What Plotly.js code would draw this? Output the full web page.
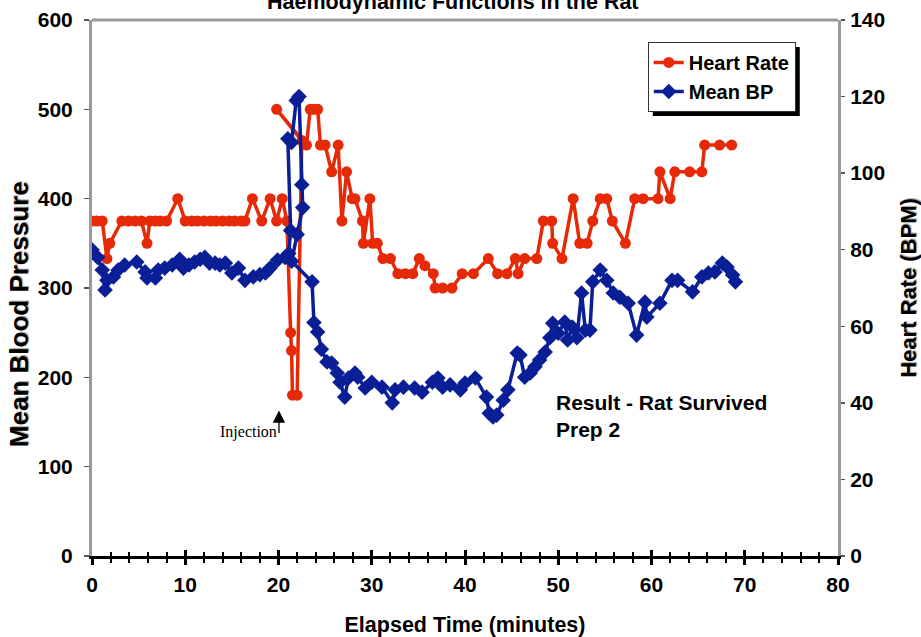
<!DOCTYPE html>
<html>
<head>
<meta charset="utf-8">
<script src="https://cdn.plot.ly/plotly-3.0.1.min.js"></script>
<style>html,body{margin:0;padding:0;background:#fff;}#chart{width:921px;height:637px;}</style>
</head>
<body>
<div id="chart"></div>
<script>
// Heart Rate (red, left axis scale)
const hrTime = [0, 0.5, 1.1, 1.6, 1.9, 3.2, 3.9, 4.6, 5.3, 5.9, 6.2, 6.8, 7.3, 8.0, 9.2, 10.0, 10.7, 11.3, 12.0, 12.7, 13.3, 14.0, 14.7, 15.3, 16.0, 16.4, 17.2, 18.2, 19.1, 19.8, 20.4, 20.9, 21.3, 21.4, 21.5, 22.0, 22.5, 19.8, 23.0, 23.4, 23.8, 24.2, 24.5, 25.0, 25.7, 26.4, 26.8, 27.3, 27.9, 28.2, 29.0, 29.1, 29.8, 30.1, 30.6, 31.2, 32.0, 32.8, 33.6, 34.4, 35.1, 35.7, 36.6, 36.8, 37.6, 38.6, 39.7, 40.9, 42.5, 43.5, 44.5, 45.4, 45.7, 46.4, 47.7, 48.4, 49.3, 49.4, 50.4, 51.6, 52.3, 53.1, 53.7, 54.5, 55.2, 55.8, 57.2, 58.2, 59.1, 60.7, 60.9, 62.0, 62.5, 64.1, 65.4, 65.7, 67.3, 68.6];
const hrValues = [375, 375, 375, 333, 350, 375, 375, 375, 375, 350, 375, 375, 375, 375, 400, 375, 375, 375, 375, 375, 375, 375, 375, 375, 375, 375, 400, 375, 400, 375, 400, 375, 250, 230, 180, 180, 465, 500, 460, 500, 500, 500, 460, 460, 430, 460, 375, 430, 400, 400, 375, 350, 400, 350, 350, 333, 333, 316, 316, 316, 333, 325, 316, 300, 300, 300, 316, 316, 333, 316, 316, 333, 316, 333, 333, 375, 375, 350, 333, 400, 350, 350, 375, 400, 400, 375, 350, 400, 400, 400, 430, 400, 430, 430, 430, 460, 460, 460];

// Mean BP (blue, right axis scale)
const bpTime = [0, 0.6, 1.1, 1.4, 1.6, 2.3, 2.8, 3.5, 4.8, 5.7, 5.9, 6.8, 7.1, 7.8, 8.6, 9.4, 9.8, 10.4, 11.0, 11.6, 12.1, 12.6, 13.2, 13.7, 14.3, 15.0, 15.7, 16.4, 17.3, 18.0, 18.6, 19.1, 19.9, 20.7, 21.1, 21.3, 21.0, 21.4, 21.9, 22.2, 22.5, 22.6, 22.0, 21.4, 23.6, 23.8, 24.2, 24.6, 25.2, 25.7, 26.3, 26.6, 27.1, 27.5, 28.2, 28.5, 29.3, 30.0, 31.1, 32.2, 32.5, 33.4, 34.6, 35.4, 36.5, 37.1, 37.6, 38.4, 39.5, 40.0, 41.1, 42.3, 42.6, 43.0, 43.4, 44.1, 44.6, 45.6, 45.9, 46.4, 47.0, 47.5, 48.0, 48.6, 49.1, 49.4, 50.0, 50.7, 51.0, 51.5, 52.0, 52.5, 52.9, 53.4, 53.7, 54.5, 55.2, 55.9, 56.6, 57.5, 58.4, 59.3, 59.5, 60.9, 62.2, 62.8, 64.4, 65.4, 66.1, 66.8, 67.6, 68.1, 68.7, 69.0];
const bpValues = [80, 78, 74.7, 69.5, 72, 72.9, 74.7, 76, 76.8, 74.2, 72.6, 72.6, 74.7, 75.2, 76, 77.5, 75.2, 76, 76.8, 77.5, 78, 76.5, 76.5, 76, 76.5, 73.9, 75.2, 72, 72.9, 73.5, 73.9, 75.2, 77.3, 78, 79, 85, 109, 108, 119, 120, 97, 91, 84, 77, 71.6, 61, 58.5, 54, 50.7, 50.4, 47.8, 45.4, 41.5, 46.5, 47.8, 46.7, 43.9, 45.4, 44.1, 40, 43.4, 44.1, 43.9, 42.8, 45.4, 46.5, 44.1, 44.7, 43.4, 45.2, 46.5, 41.5, 37.3, 36.3, 36.8, 40.7, 43.4, 53, 52.5, 46.7, 47.8, 49.4, 51.2, 53.3, 57, 60.8, 58.2, 61.1, 56.4, 59.8, 57, 68.7, 59, 59, 71.6, 74.7, 72, 68.7, 67.6, 66, 57.7, 66.3, 62.4, 66, 72, 72, 69, 72.9, 73.9, 74.2, 76.5, 75.5, 73.4, 71.6];

const seriesNames = ['Heart Rate', 'Mean BP'];
const titleText = 'Haemodynamic Functions in the Rat';
const xTitle = 'Elapsed Time (minutes)';
const yLeftTitle = 'Mean Blood Pressure';
const yRightTitle = 'Heart Rate (BPM)';
const noteText = 'Result - Rat Survived<br>Prep 2';
const injectionText = 'Injection';

const RED = '#E62A08';
const BLUE = '#0A1E96';
const F = 'Liberation Sans, Arial, sans-serif';

const traces = [
  {x: hrTime, y: hrValues, name: seriesNames[0], type: 'scatter', mode: 'lines+markers',
   line: {color: RED, width: 3.5}, marker: {symbol: 'circle', size: 11, color: RED}, yaxis: 'y'},
  {x: bpTime, y: bpValues, name: seriesNames[1], type: 'scatter', mode: 'lines+markers',
   line: {color: BLUE, width: 3.5}, marker: {symbol: 'diamond', size: 12, color: BLUE}, yaxis: 'y2'},
  {x: [], y: [], xaxis: 'x2', showlegend: false, hoverinfo: 'skip'}
];

const tickFont = {family: F, size: 21, weight: 'bold', color: '#000'};

const layout = {
  width: 921, height: 637,
  margin: {l: 92, r: 83, t: 20, b: 81, pad: 0},
  paper_bgcolor: '#fff', plot_bgcolor: '#fff',
  font: {family: F, color: '#000'},
  showlegend: true,
  xaxis: {
    range: [0, 80], tick0: 0, dtick: 10, ticks: 'outside', ticklen: 6, tickwidth: 3, tickcolor: '#000',
    showline: true, linecolor: '#000', linewidth: 3, showgrid: false, zeroline: false,
    tickfont: tickFont, ticklabelstandoff: 2,
    minor: {dtick: 2, ticks: 'outside', ticklen: 4, tickwidth: 2, tickcolor: '#000'},
    title: {text: xTitle, font: {family: F, size: 21.5, weight: 'bold'}, standoff: 22}
  },
  xaxis2: {
    overlaying: 'x', anchor: 'y', side: 'bottom', range: [0, 80], tick0: 0, dtick: 10,
    ticks: 'inside', ticklen: 6, tickwidth: 3, tickcolor: '#000', showticklabels: false,
    showline: false, showgrid: false, zeroline: false,
    minor: {dtick: 2, ticks: 'inside', ticklen: 4, tickwidth: 2, tickcolor: '#000'}
  },
  yaxis: {
    range: [0, 600], dtick: 100, ticks: 'outside', ticklen: 5, tickwidth: 1.5, tickcolor: '#555',
    showline: true, linecolor: '#9a9a9a', linewidth: 3, showgrid: false, zeroline: false,
    tickfont: tickFont, ticklabelstandoff: 7
  },
  yaxis2: {
    overlaying: 'y', side: 'right', range: [0, 140], dtick: 20, ticks: 'outside', ticklen: 4, tickwidth: 1.5,
    tickcolor: '#555', showline: true, linecolor: '#9a9a9a', linewidth: 3, showgrid: false, zeroline: false,
    tickfont: tickFont, ticklabelstandoff: 1,
    title: {text: yRightTitle, font: {family: F, size: 22, weight: 'bold', shadow: '1px 1px 1px #999'}, standoff: 18}
  },
  legend: {
    x: 0.745, y: 0.959, xanchor: 'left', yanchor: 'top',
    bgcolor: '#fff', bordercolor: '#333', borderwidth: 1,
    font: {family: F, size: 20, weight: 'bold'}, tracegroupgap: 0
  },
  shapes: [
    {type: 'line', xref: 'paper', yref: 'paper', x0: 0, x1: 1, y0: 1, y1: 1, line: {color: '#9a9a9a', width: 3}}
  ],
  annotations: [
    {text: titleText, xref: 'paper', yref: 'paper', x: 0.484, y: 1.034, xanchor: 'center', yanchor: 'middle',
     showarrow: false, font: {family: F, size: 21.5, weight: 'bold'}},
    {text: yLeftTitle, xref: 'paper', yref: 'paper', x: -0.098, y: 0.451, xanchor: 'center', yanchor: 'middle',
     textangle: -90, showarrow: false, font: {family: F, size: 26, weight: 'bold', shadow: '1px 1px 1px #999'}},
    {text: noteText, xref: 'x', yref: 'y', x: 49.5, y: 157, xanchor: 'left', yanchor: 'middle', align: 'left',
     showarrow: false, font: {family: F, size: 21, weight: 'bold'}},
    {text: injectionText, xref: 'x', yref: 'y', x: 20.0, y: 139, xanchor: 'right', yanchor: 'middle',
     showarrow: false, font: {family: 'Liberation Serif, Times New Roman, serif', size: 16}},
    {text: '', xref: 'x', yref: 'y', x: 20.05, y: 163, showarrow: true, ax: 0, ay: 24,
     arrowhead: 2, arrowsize: 1.9, arrowwidth: 1.3, arrowcolor: '#000'}
  ]
};

Plotly.newPlot('chart', traces, layout, {displayModeBar: false, staticPlot: true}).then(function(gd){
  // legend shadow sized from the drawn legend box
  const bg = gd.querySelector('.legend .bg');
  if (bg) {
    const w = parseFloat(bg.getAttribute('width'));
    const h = parseFloat(bg.getAttribute('height'));
    const fl = gd._fullLayout;
    const x0 = fl.legend.x, y0 = fl.legend.y;
    const pw = fl._size.w, ph = fl._size.h;
    const off = 5;
    const shapes = (gd.layout.shapes || []).slice();
    shapes.push({type: 'rect', xref: 'paper', yref: 'paper', layer: 'above',
      x0: x0 + off / pw, x1: x0 + (w + off) / pw, y0: y0 - (h + off) / ph, y1: y0 - off / ph,
      fillcolor: '#000', line: {width: 0}});
    Plotly.relayout(gd, {shapes: shapes});
  }
});
</script>
</body>
</html>
